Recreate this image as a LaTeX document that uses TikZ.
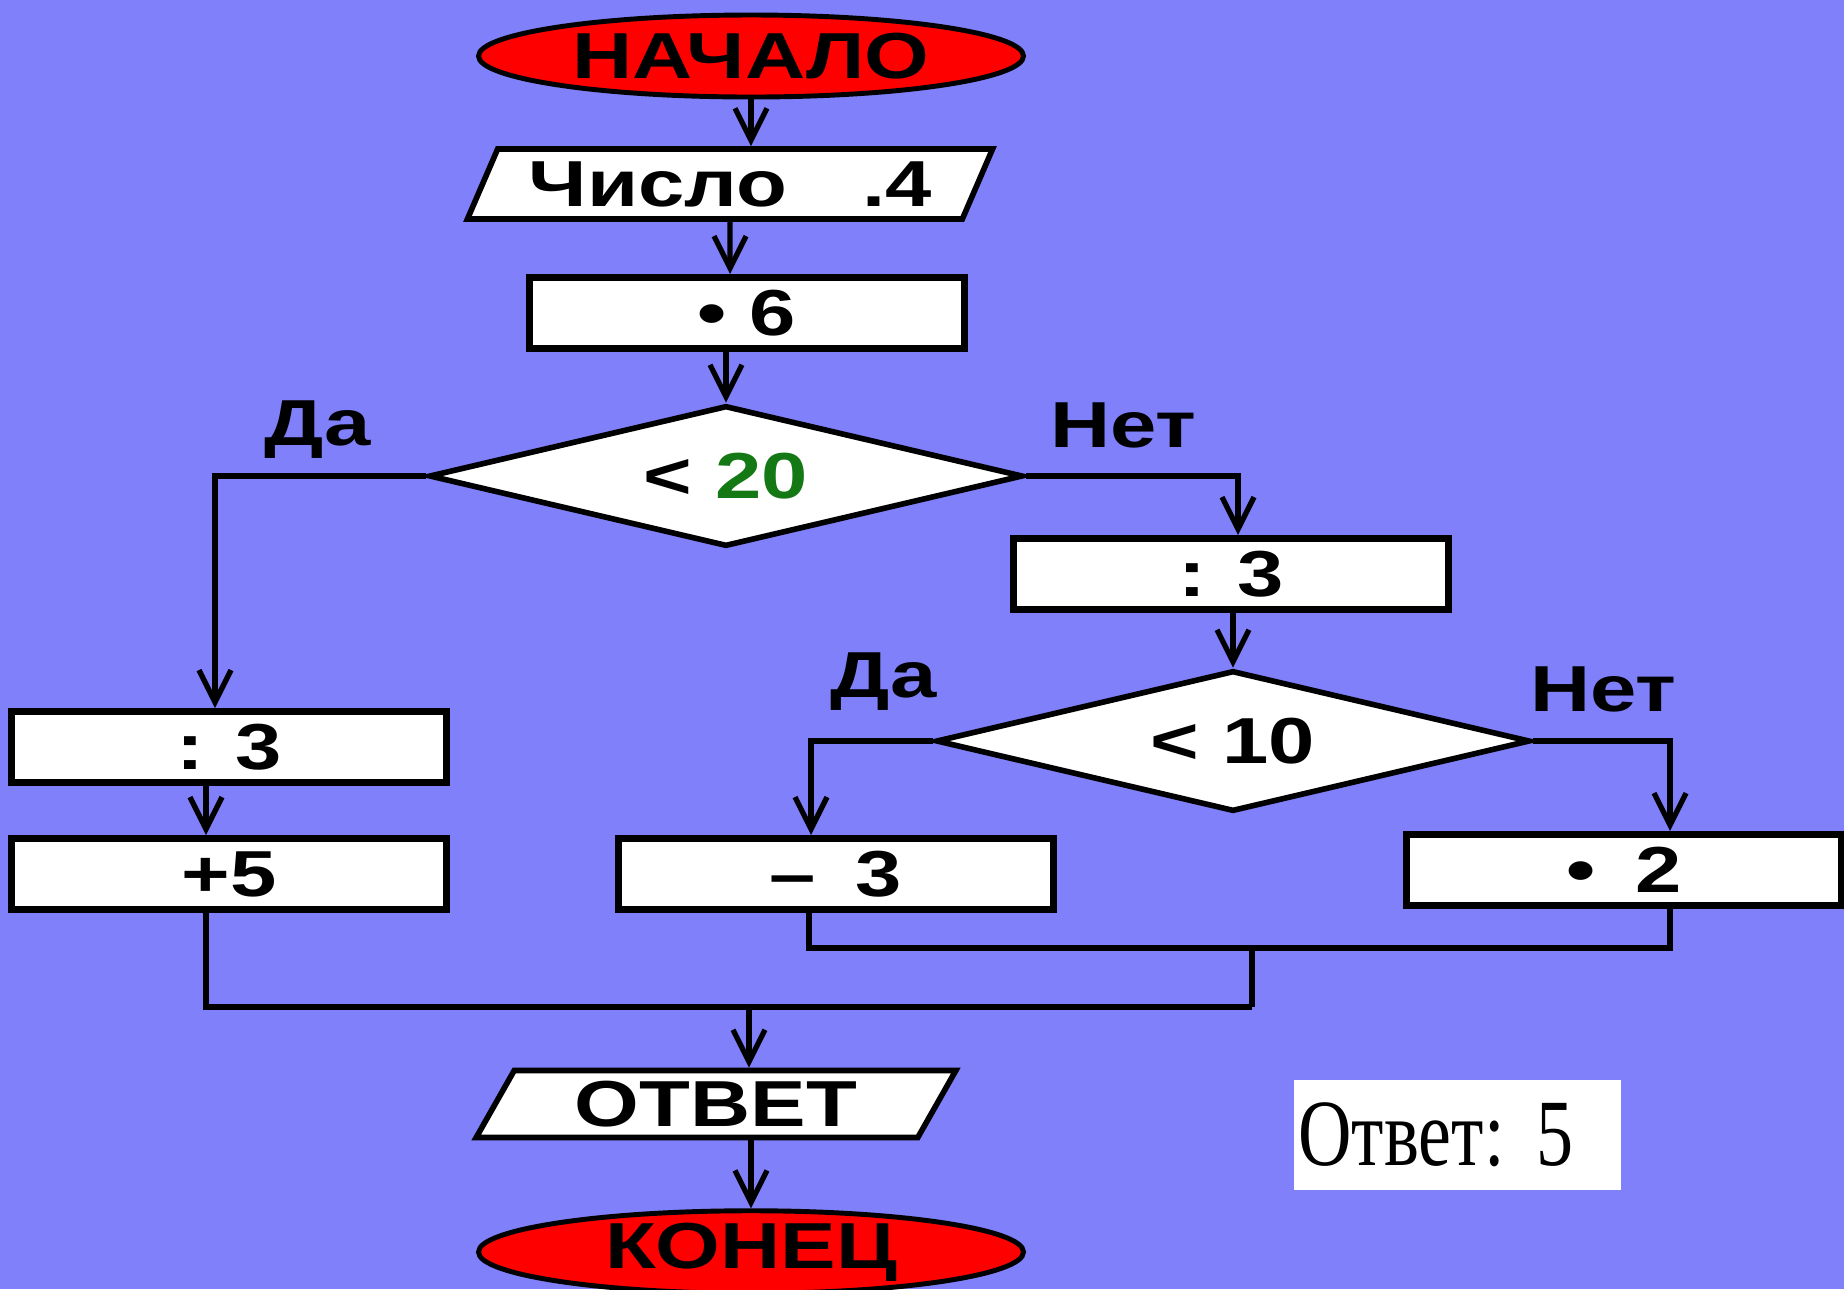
\documentclass[tikz,border=0pt]{standalone}
\usepackage{fontspec}
\usepackage{xcolor}
\usepackage{tikz}
\usetikzlibrary{arrows.meta, positioning, shapes.geometric}
\newfontfamily\flowfont[FakeStretch=1.28]{Liberation Sans}
\newfontfamily\answerfont[FakeStretch=0.78]{Liberation Serif}
\definecolor{bgblue}{RGB}{128,128,250}
\definecolor{numgreen}{RGB}{20,120,20}

\begin{document}
\begin{tikzpicture}[>={Straight Barb[length=3.2mm,width=3.2mm]},
  every node/.style={font=\flowfont\bfseries\fontsize{18.5}{20}\selectfont, inner sep=0pt},
  term/.style={ellipse, draw, line width=1.4pt, fill=red, minimum width=5.45cm, minimum height=0.82cm},
  io/.style={trapezium, trapezium left angle=60, trapezium right angle=120, trapezium stretches=true,
    draw, line width=1.6pt, fill=white, minimum height=0.7cm},
  op/.style={rectangle, draw, line width=2pt, fill=white, minimum width=4.35cm, minimum height=0.71cm},
  test/.style={diamond, draw, line width=1.6pt, fill=white, aspect=4.2, minimum width=5.94cm, minimum height=1.41cm},
  flow/.style={line width=1.5pt}]

  % Background
  \useasboundingbox (0,0) rectangle (18.44,-12.89);
  \fill[bgblue] (0,0) rectangle (18.44,-12.89);

  % Nodes
	\node[term] (start) at (7.51,-0.56) {НАЧАЛО};
	\node[io, minimum width=5.26cm] (input) at (7.30,-1.84) {Число\hspace{0.75cm}.4};
	\node[op] (mul6) at (7.47,-3.13) {• 6};
	\node[test] (lt20) at (7.26,-4.76) {< {\color{numgreen}20}};
	\node[op] (div3r) at (12.31,-5.74) {: 3};
	\node[test] (lt10) at (12.33,-7.41) {< 10};
	\node[op] (div3l) at (2.29,-7.47) {: 3};
	\node[op] (add5) at (2.29,-8.74) {+5};
	\node[op] (sub3) at (8.36,-8.74) {–\hspace{0.4cm}3};
	\node[op] (mul2) at (16.24,-8.70) {•\hspace{0.4cm}2};
	\node[io, minimum width=4.84cm, minimum height=0.67cm] (output) at (7.16,-11.04) {ОТВЕТ};
	\node[term] (stop) at (7.51,-12.52) {КОНЕЦ};
	\node[fill=white, minimum width=3.27cm, minimum height=1.1cm, text width=3.27cm, align=left,
	  font=\answerfont\fontsize{27}{28}\selectfont] (answer) at (14.57,-11.35) {\hspace{0.5mm}Ответ:\ 5};

  % Branch labels
	\node[above left=0.17cm and 0.55cm of lt20.west] (yes1) {Да};
	\node[above right=0.27cm and 0.24cm of lt20.east] (no1) {Нет};
	\node[above left=0.3cm and -0.04cm of lt10.west] (yes2) {Да};
	\node[above right=0.28cm and -0.03cm of lt10.east] (no2) {Нет};

  % Arrows
	\draw[flow,->] (start) -- (start |- input.north);
	\draw[flow,->] (input) -- (input |- mul6.north);
	\draw[flow,->] (lt20 |- mul6.south) -- (lt20);
	\draw[flow,->] (lt20.west) -| ([xshift=-1.4mm]div3l.north);
	\draw[flow,->] (lt20.east) -| ([xshift=0.7mm]div3r.north);
	\draw[flow,->] (lt10 |- div3r.south) -- (lt10);
	\draw[flow,->] (lt10.west) -| ([xshift=-2.5mm]sub3.north);
	\draw[flow,->] (lt10.east) -| ([xshift=4.6mm]mul2.north);
	\draw[flow,->] ([xshift=-2.3mm]div3l.south) -- ([xshift=-2.3mm]add5.north);

  % Merging lines
	\coordinate (jr) at (12.52,-9.48);
	\coordinate (jm) at (12.52,-10.07);
	\coordinate (jo) at (7.49,-10.07);
	\draw[flow] ([xshift=-2.7mm]sub3.south) |- (jr) -| ([xshift=4.6mm]mul2.south);
	\draw[flow] (jr) -- (jm);
	\draw[flow] ([xshift=-2.3mm]add5.south) |- (jm);
	\draw[flow,->] (jo) -- (jo |- output.north);
	\draw[flow,->] (stop |- output.south) -- (stop);
\end{tikzpicture}
\end{document}
